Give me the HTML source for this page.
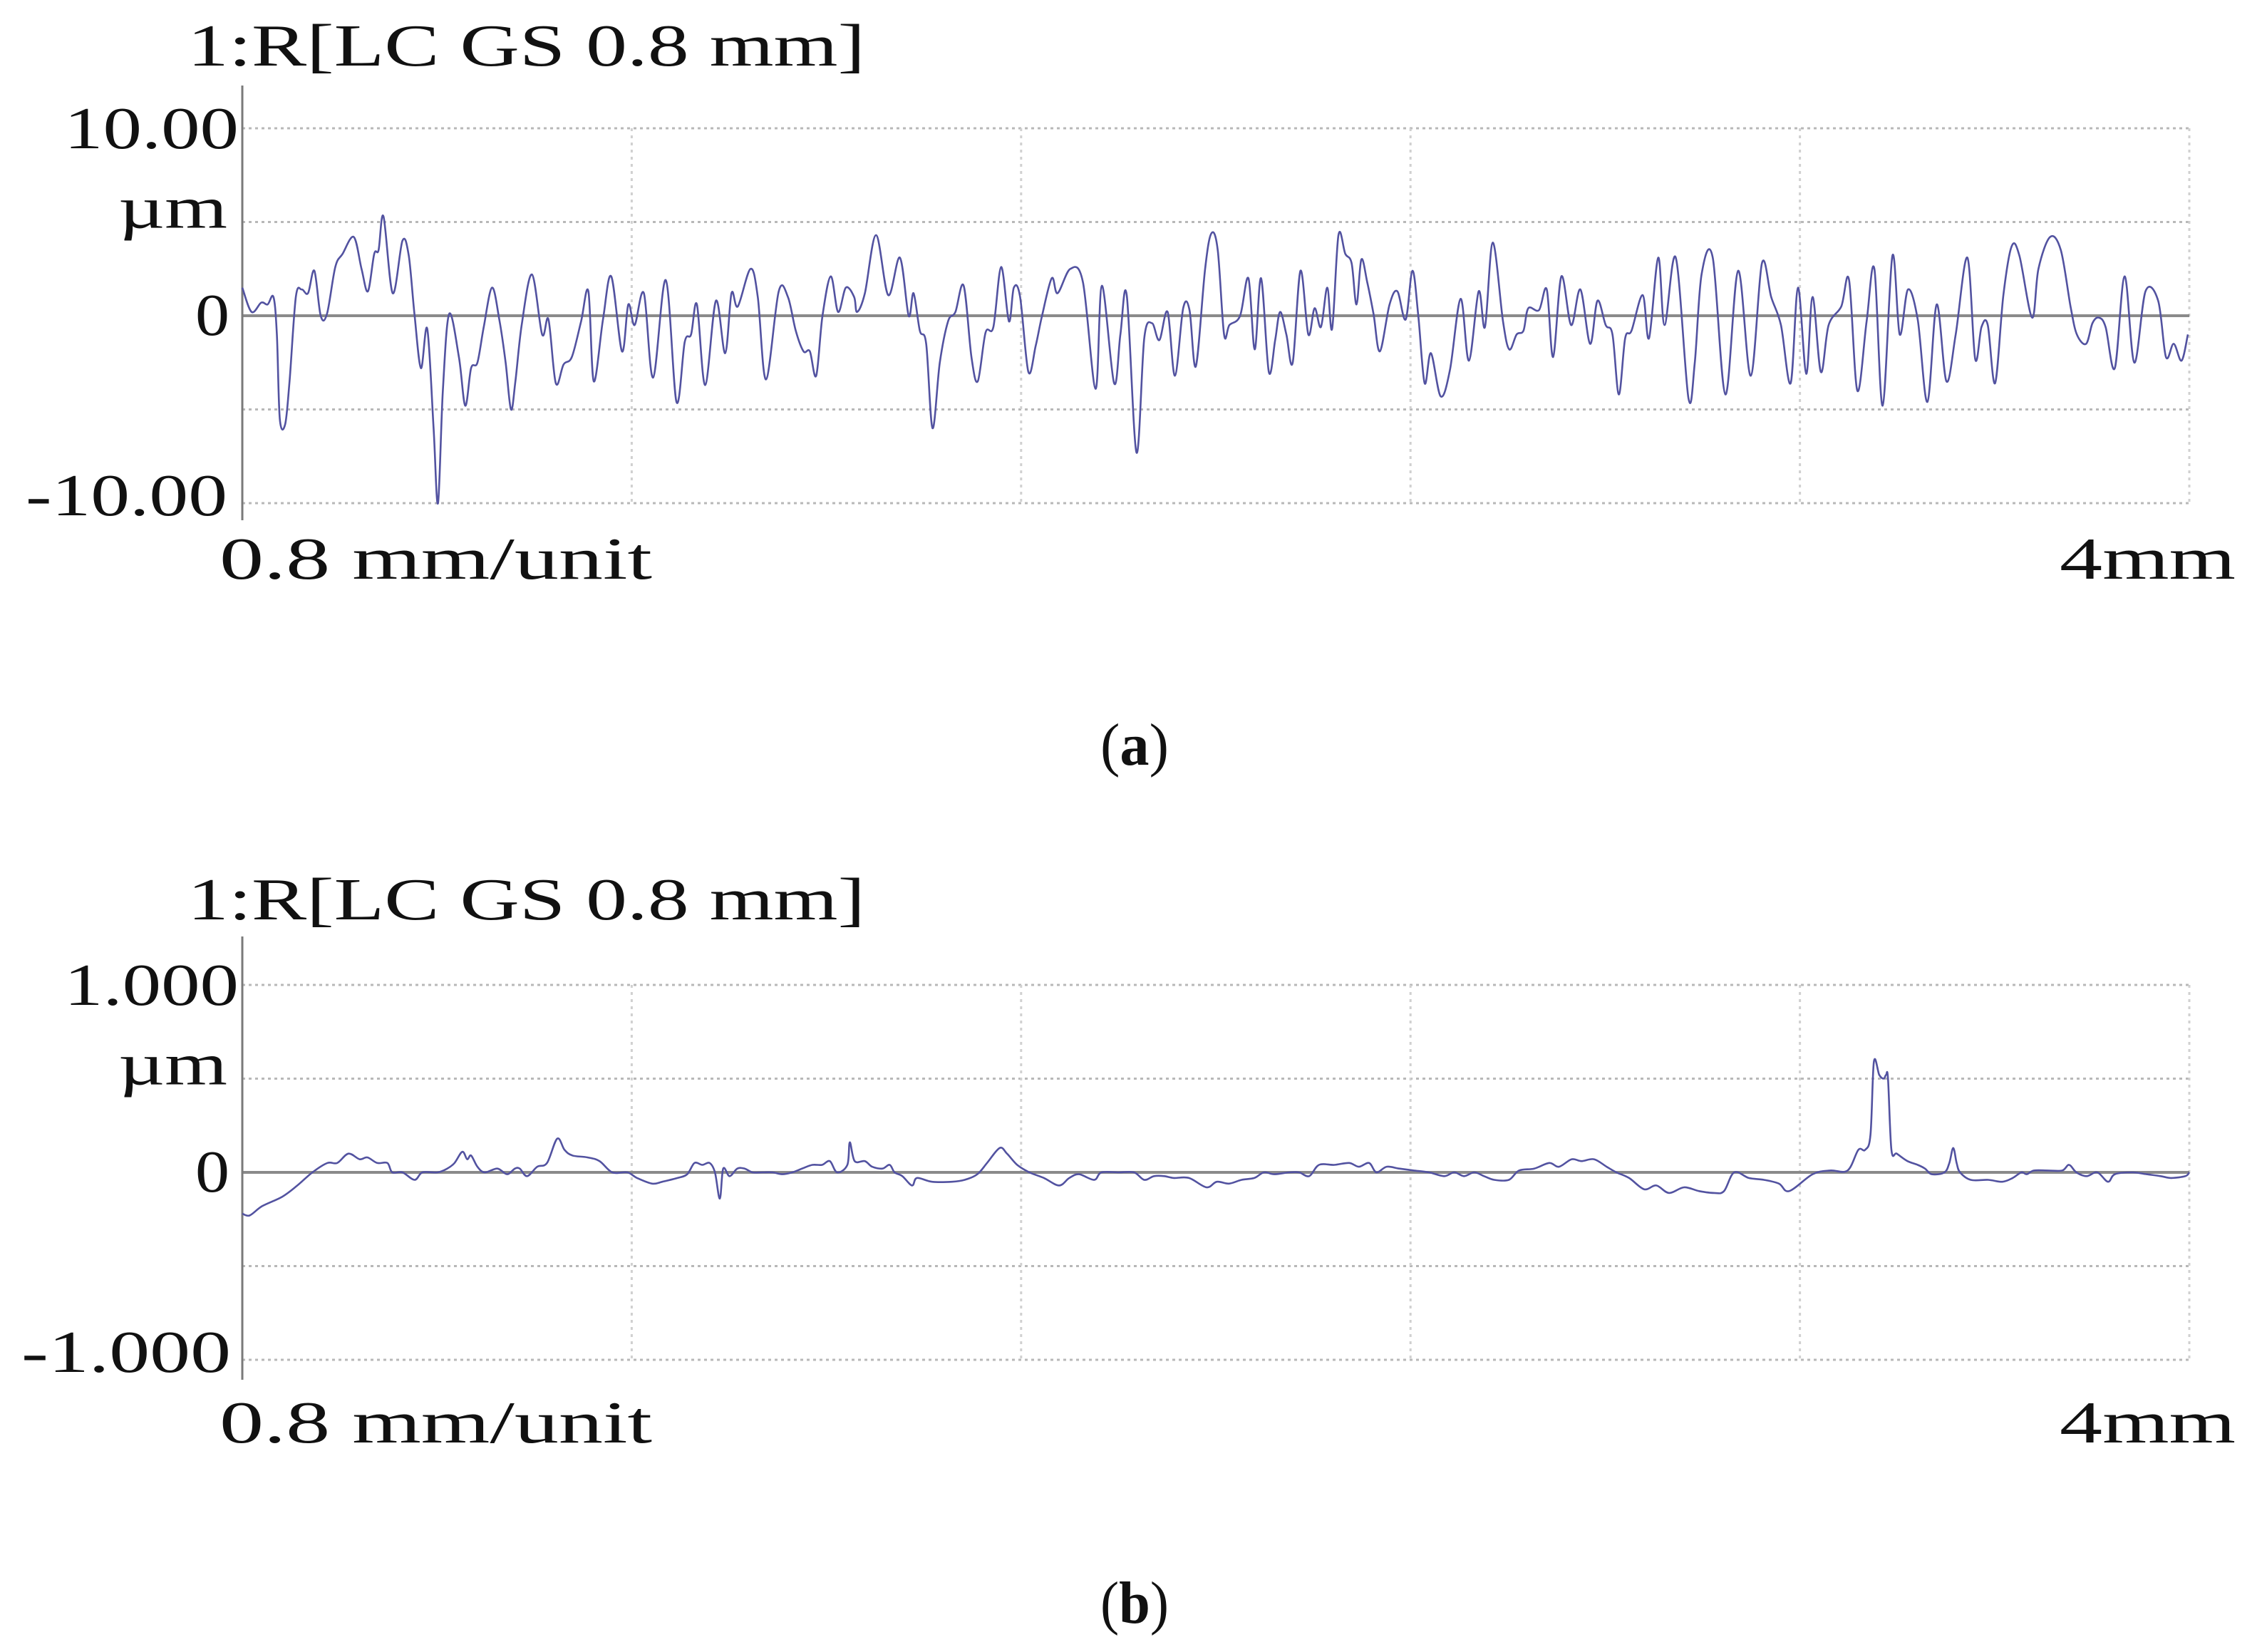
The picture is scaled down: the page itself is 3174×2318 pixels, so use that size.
<!DOCTYPE html>
<html><head><meta charset="utf-8"><title>Roughness profiles</title>
<style>
html,body{margin:0;padding:0;background:#fff;}
svg{display:block;}
text{font-family:"Liberation Serif",serif;fill:#111;}
</style></head>
<body>
<svg id="fig" width="3174" height="2318" viewBox="0 0 3174 2318" xmlns="http://www.w3.org/2000/svg">
<rect width="3174" height="2318" fill="#fff"/>
<g id="chartA"></g>
<g id="chartB"></g>
</svg>
<script>
// Chart (a) data: position along profile (mm) and height (µm)
const aPos = [0,.019,.039,.052,.064,.071,.077,.088,.097,.110,.122,.135,.148,.161,.174,.191,.206,.229,.245,.258,.271,.280,.290,.309,.329,.342,.354,.367,.380,.393,.402,.412,.425,.445,.458,.470,.483,.496,.513,.528,.541,.552,.561,.574,.595,.616,.629,.644,.660,.677,.696,.711,.722,.741,.758,.780,.793,.806,.825,.844,.870,.892,.909,.922,.934,.951,.973,.992,1.005,1.018,1.044,1.059,1.076,1.102,1.121,1.137,1.153,1.166,1.179,1.192,1.209,1.224,1.240,1.257,1.263,1.279,1.302,1.327,1.351,1.369,1.379,1.392,1.405,1.418,1.433,1.450,1.465,1.482,1.498,1.511,1.527,1.543,1.559,1.575,1.585,1.598,1.615,1.630,1.643,1.663,1.675,1.701,1.727,1.753,1.766,1.791,1.804,1.817,1.837,1.853,1.869,1.884,1.901,1.916,1.933,1.946,1.959,1.978,
1.991,2.004,2.017,2.028,2.050,2.067,2.080,2.093,2.109,2.122,2.132,2.145,2.158,2.174,2.190,2.203,2.216,2.229,2.239,2.252,2.266,2.279,2.289,2.299,2.311,2.324,2.337,2.357,2.373,2.390,2.404,2.416,2.429,2.442,2.462,2.481,2.503,2.520,2.540,2.553,2.569,2.590,2.603,2.618,2.632,2.642,2.664,2.680,2.693,2.710,2.730,2.749,2.769,2.784,2.801,2.815,2.828,2.841,2.854,2.877,2.890,2.909,2.922,2.945,2.971,2.984,2.998,3.021,3.047,3.073,3.099,3.122,3.141,3.161,3.181,3.196,3.213,3.226,3.243,3.259,3.285,3.301,3.318,3.337,3.353,3.370,3.390,3.405,3.422,3.442,3.462,3.481,3.501,3.520,3.544,3.560,3.573,3.586,3.601,3.618,3.635,3.651,3.677,3.690,3.714,3.736,3.756,3.769,3.788,3.801,3.814,3.828,3.847,3.867,3.887,3.910,3.936,3.952,3.968,3.984,3.997];
const aVal = [1.5,.2,.7,.6,1.0,-1,-5.5,-5.8,-3.5,1.0,1.4,1.2,2.4,0,.1,2.6,3.3,4.2,2.5,1.3,3.3,3.5,5.3,1.2,4.0,3.2,0,-2.8,-.7,-6,-10,-4,.1,-2.2,-4.8,-2.8,-2.5,-.6,1.5,-.2,-2.5,-5,-3.5,-.5,2.2,-1,-.2,-3.6,-2.6,-2.2,-.3,1.3,-3.5,-.2,2.1,-1.9,.6,-.5,1.2,-3.3,1.9,-4.6,-1.4,-1,.6,-3.7,.8,-2,1.2,.5,2.5,1,-3.4,1.3,1.0,-.8,-1.9,-1.9,-3.2,0,2.1,.2,1.5,1.0,.2,1.2,4.3,1.1,3.1,0,1.2,-.8,-1.5,-6,-2.5,-.3,.2,1.6,-2.2,-3.5,-.9,-.6,2.6,-.3,1.5,1.0,-3.0,-1.6,0,2.0,1.2,2.5,1.8,-3.9,1.6,-3.6,-1.0,1.1,-7.3,-1.2,-.4,-1.3,.2,-3.2,.4,.3,-2.7,2.5,
4.4,3.5,-1.0,-.5,0,2,-1.8,2,-3.0,-1.3,.2,-1.0,-2.5,2.4,-1.0,.4,-.6,1.5,-.7,4.3,3.3,2.8,.6,3.0,1.8,.1,-1.9,.6,1.3,-.2,2.4,0,-3.6,-2.0,-4.3,-2.9,.9,-2.4,1.3,-.6,3.9,-.3,-1.8,-1.0,-.8,.4,.3,1.4,-2.2,2.1,-.5,1.4,-1.5,.8,-.5,-1,-4.2,-1.2,-.8,1.1,-1.2,3.1,-.5,3.1,-4.4,-2.5,2.2,3.1,-4.2,2.4,-3.2,2.8,1.0,-.5,-3.6,1.5,-3.1,1.0,-3.0,-.5,.5,1.9,-4.0,-.3,2.5,-4.8,3.2,-1.0,1.4,-.2,-4.6,.6,-3.5,-1.0,3.1,-2.3,-.6,-.5,-3.6,1.1,3.7,3.2,-.1,2.5,4.2,3.5,.5,-1.0,-1.5,-.4,-.1,-.6,-2.8,2.1,-2.5,1.3,.8,-2.2,-1.5,-2.4,-1.0];
const aTicks = ["10.00","µm","0","-10.00"];

// Chart (b) data
const bPos = [0,.015,.041,.082,.113,.144,.175,.195,.218,.241,.257,.277,.298,.308,.329,.354,.370,.401,.421,.436,.452,.462,.470,.483,.498,.524,.544,.560,.570,.585,.606,.626,.647,.662,.678,.709,.734,.760,.791,.811,.842,.863,.894,.914,.929,.945,.960,.971,.981,.988,1.001,1.017,1.032,1.048,1.068,1.089,1.109,1.130,1.150,1.171,1.191,1.207,1.222,1.243,1.248,1.258,1.279,1.294,1.315,1.330,1.340,1.356,1.376,1.386,1.417,1.458,1.484,1.510,1.530,1.556,1.571,1.592,
1.617,1.647,1.678,1.699,1.719,1.750,1.765,1.801,1.832,1.853,1.873,1.894,1.914,1.945,1.981,2.002,2.027,2.053,2.079,2.099,2.120,2.151,2.171,2.192,2.212,2.243,2.274,2.294,2.315,2.330,2.351,2.377,2.407,2.438,2.469,2.490,2.510,2.531,2.551,2.572,2.602,2.623,2.654,2.685,2.705,2.731,2.751,2.777,2.803,2.823,2.849,2.880,2.905,2.931,2.962,2.993,3.024,3.044,3.065,3.095,3.126,3.157,3.178,
3.226,3.262,3.298,3.320,3.334,3.345,3.352,3.363,3.372,3.377,3.381,3.388,3.399,3.421,3.442,3.457,3.471,3.497,3.507,3.515,3.522,3.529,3.551,3.587,3.616,3.637,3.655,3.666,3.681,3.710,3.739,3.753,3.768,3.789,3.811,3.833,3.847,3.883,3.912,3.941,3.963,3.992,4.0];
const bVal = [-.22,-.23,-.18,-.13,-.07,0,.05,.05,.1,.07,.08,.05,.05,0,0,-.04,0,0,.02,.05,.11,.07,.09,.03,0,.02,-.01,.02,.02,-.02,.03,.05,.18,.12,.09,.08,.06,0,0,-.03,-.06,-.05,-.03,-.01,.05,.04,.05,0,-.14,.02,-.02,.02,.02,0,0,0,-.01,0,.02,.04,.04,.06,0,.04,.16,.06,.06,.03,.02,.04,0,-.02,-.07,-.03,-.05,-.05,-.04,-.01,.05,.13,.1,.04,
0,-.03,-.07,-.03,-.01,-.04,0,0,0,-.04,-.02,-.02,-.03,-.03,-.08,-.05,-.06,-.04,-.03,0,-.01,0,0,-.02,.04,.04,.05,.03,.05,0,.03,.02,.01,0,-.02,0,-.02,0,-.02,-.04,-.04,.01,.02,.05,.03,.07,.06,.07,.03,0,-.03,-.09,-.07,-.11,-.08,-.1,-.11,-.1,0,-.03,-.04,-.06,-.1,
-.01,.01,.01,.12,.12,.2,.59,.52,.5,.52,.5,.12,.1,.06,.04,.02,-.01,0,.05,.13,.05,0,-.04,-.04,-.05,-.03,0,-.01,.01,.01,.01,.04,0,-.02,0,-.05,-.01,0,-.01,-.02,-.03,-.02,0];
const bTicks = ["1.000","µm","0","-1.000"];

const NS = "http://www.w3.org/2000/svg";
function mk(parent, tag, attrs, txt){
  const e = document.createElementNS(NS, tag);
  for (const k in attrs) e.setAttribute(k, attrs[k]);
  if (txt !== undefined) e.textContent = txt;
  parent.appendChild(e);
  return e;
}

function smoothPath(pts){
  let d = "M" + pts[0][0].toFixed(1) + " " + pts[0][1].toFixed(1);
  const t = 0.5;
  for (let i = 0; i < pts.length - 1; i++) {
    const p0 = pts[Math.max(0, i-1)], p1 = pts[i], p2 = pts[i+1], p3 = pts[Math.min(pts.length-1, i+2)];
    const c1x = p1[0] + (p2[0]-p0[0]) * t / 3, c1y = p1[1] + (p2[1]-p0[1]) * t / 3;
    const c2x = p2[0] - (p3[0]-p1[0]) * t / 3, c2y = p2[1] - (p3[1]-p1[1]) * t / 3;
    d += "C" + c1x.toFixed(1) + " " + c1y.toFixed(1) + " " + c2x.toFixed(1) + " " + c2y.toFixed(1) + " " + p2[0].toFixed(1) + " " + p2[1].toFixed(1);
  }
  return d;
}

function drawChart(g, cfg, pos, val, ticks, letter){
  const x0 = 340, x1 = 3072;
  const xs = v => x0 + (v / 4) * (x1 - x0);
  const ys = v => cfg.y0 - (v / cfg.max) * (cfg.y0 - cfg.yTop);
  const oy = cfg.off;
  [cfg.max, cfg.max/2, -cfg.max/2, -cfg.max].forEach(v => {
    const l = mk(g, "line", {x1:x0, x2:x1, y1:ys(v), y2:ys(v), stroke:"#b8b8b8", "stroke-width":3, "stroke-dasharray":"4 5"});
    
    
  });
  for (let i = 1; i <= 5; i++) {
    const xv = xs(i * 0.8);
    const l = mk(g, "line", {x1:xv, x2:xv, y1:ys(cfg.max), y2:ys(-cfg.max), stroke:"#d0d0d0", "stroke-width":3, "stroke-dasharray":"4 6"});
    
    
  }
  const z = mk(g, "line", {x1:x0, x2:x1, y1:ys(0), y2:ys(0), stroke:"#8a8a8a", "stroke-width":4});
  
  
  const ax = mk(g, "line", {x1:x0, x2:x0, y1:cfg.axTop, y2:cfg.axBot, stroke:"#7a7a7a", "stroke-width":3});
  
  
  const pts = pos.map((v, i) => [xs(v), ys(val[i])]);
  const p = mk(g, "path", {d:smoothPath(pts), fill:"none", stroke:"#5252a0", "stroke-width":2.6, "stroke-linejoin":"round"});
  
  
  const t = mk(g, "text", {x:263, y:92+oy, "font-size":84, textLength:951, lengthAdjust:"spacingAndGlyphs"}, "1:R[LC GS 0.8 mm]");
  
  
  const tk = [
    {s:ticks[0], x:cfg.t0x, y:ys(cfg.max)+28, w:cfg.t0w},
    {s:ticks[1], x:166, y:ys(cfg.max/2)+8, w:153},
    {s:ticks[2], x:274, y:ys(0)+27, w:48},
    {s:ticks[3], x:cfg.t3x, y:ys(-cfg.max)+17, w:cfg.t3w}
  ];
  tk.forEach(o => {
    const e = mk(g, "text", {x:o.x, y:o.y, "font-size":84, textLength:o.w, lengthAdjust:"spacingAndGlyphs"}, o.s);
    
    
  });
  const u = mk(g, "text", {x:308, y:812+cfg.lOff, "font-size":84, textLength:607, lengthAdjust:"spacingAndGlyphs"}, "0.8 mm/unit");
  
  
  const e4 = mk(g, "text", {x:2890, y:812+cfg.lOff, "font-size":84, textLength:247, lengthAdjust:"spacingAndGlyphs"}, "4mm");
  
  
  const cap = mk(g, "text", {x:1544, y:cfg.capY, "font-size":84, textLength:96, lengthAdjust:"spacingAndGlyphs"});
  
  
  mk(cap, "tspan", {}, "(");
  mk(cap, "tspan", {"font-weight":"bold"}, letter);
  mk(cap, "tspan", {}, ")");
}

drawChart(document.getElementById("chartA"),
  {max:10, y0:443, yTop:180, off:0, axTop:120, axBot:730, t0x:90, t0w:245, t3x:36, t3w:283, lOff:0, capY:1073},
  aPos, aVal, aTicks, "a");
drawChart(document.getElementById("chartB"),
  {max:1, y0:1645, yTop:1382, off:1198, axTop:1314, axBot:1936, t0x:90, t0w:245, t3x:30, t3w:294, lOff:1212, capY:2277},
  bPos, bVal, bTicks, "b");
</script>
</body></html>
